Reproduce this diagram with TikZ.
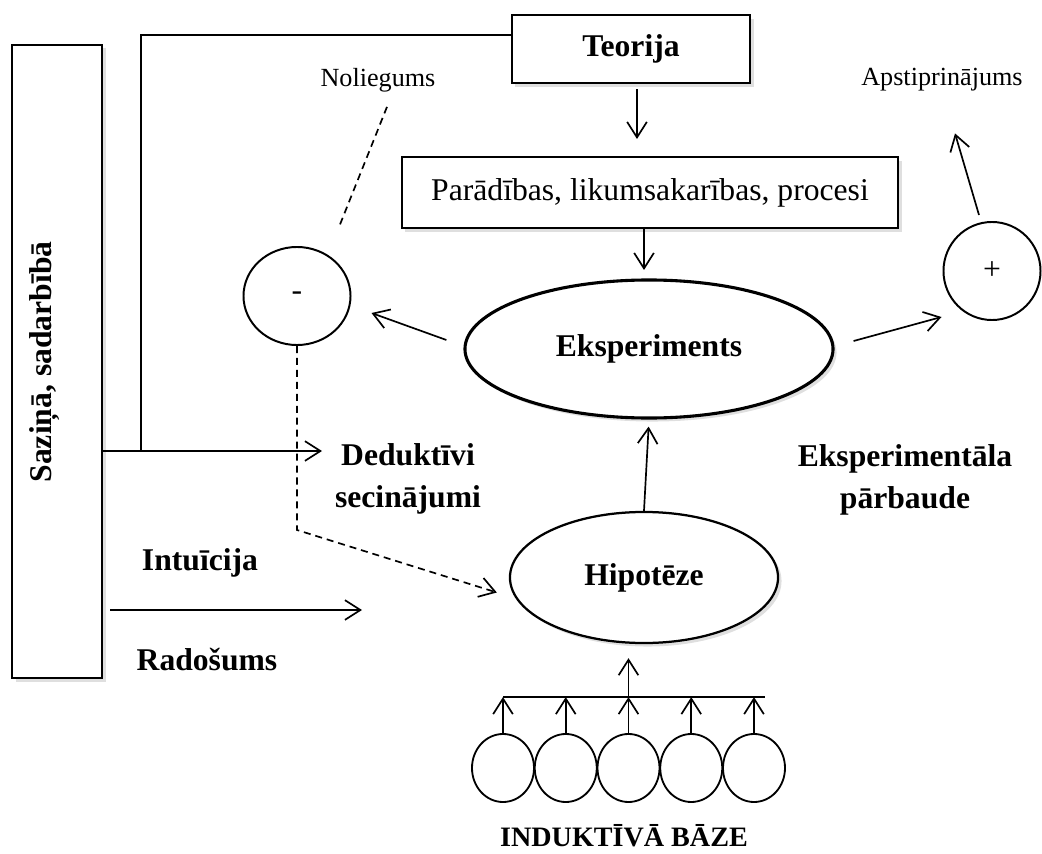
\documentclass[tikz,border=0pt]{standalone}
\usepackage{fontspec}
\setmainfont{Liberation Serif}
\usetikzlibrary{arrows.meta,positioning,shapes.geometric,shadows}

\begin{document}
\begin{tikzpicture}[
            x=0.025cm, y=-0.025cm,
            bigfont/.style={font=\fontsize{22.5pt}{30pt}\selectfont},
            smallfont/.style={font=\fontsize{18.6pt}{22pt}\selectfont},
            shade/.style={fill=white, drop shadow={shadow xshift=2.5pt, shadow yshift=-2.5pt, opacity=0.25}},
            block/.style={draw, line width=1.6pt, shade, minimum width=5.95cm, minimum height=1.7cm, bigfont},
            oval/.style={draw, ellipse, line width=1.6pt, shade, bigfont, font=\bfseries\fontsize{22.5pt}{30pt}\selectfont},
            sign/.style={draw, ellipse, line width=1.4pt, inner sep=0pt, bigfont},
            fact/.style={draw, ellipse, line width=1.3pt, inner sep=0pt, minimum width=1.55cm, minimum height=1.7cm},
            label/.style={align=center, font=\bfseries\fontsize{22.5pt}{30pt}\selectfont},
            note/.style={smallfont},
            line/.style={line width=1.2pt},
            arrow/.style={line, -{Straight Barb[length=11pt, width=14pt]}},
            dashline/.style={line, dash pattern=on 5pt off 3.5pt}
        ]
        \useasboundingbox (0,0) rectangle (1042,854);

        \node[draw, line width=1.6pt, shade, minimum width=2.25cm, minimum height=15.825cm] (sazina) at (57,361.5) {};
        \node[label, rotate=90] (sazinatext) at (45,362) {Saziņā, sadarbībā};

        \node[block, font=\bfseries\fontsize{22.5pt}{30pt}\selectfont] (teorija) at (631,49) {Teorija};

        \node[block, minimum width=12.4cm, minimum height=1.775cm] (paradibas) at (650,192.5) {Parādības, likumsakarības, procesi};

        \node[oval, line width=2.2pt, minimum width=9.2cm, minimum height=3.45cm] (eksp) at (649,349) {Eksperiments};

        \node[oval, minimum width=6.7cm, minimum height=3.275cm] (hipo) at (644,577.5) {Hipotēze};

        \node[sign, minimum width=2.675cm, minimum height=2.45cm] (minus) at (297,296) {-};
        \node[sign, minimum width=2.425cm, minimum height=2.45cm] (plus) at (992,271) {+};

        \node[note] (noliegums) at (378,80) {Noliegums};
        \node[note] (apstip) at (942,80) {Apstiprinājums};

        \node[label] (deduktivi) at (408,479) {Deduktīvi\\secinājumi};
        \node[label] (parbaude) at (905,480) {Eksperimentāla\\pārbaude};
        \node[label] (intuicija) at (200,563) {Intuīcija};
        \node[label] (radosums) at (207,660) {Radošums};
        \node[label, font=\bfseries\fontsize{20pt}{24pt}\selectfont] (baze) at (624,836) {INDUKTĪVĀ BĀZE};

        % inductive base
        \foreach \i in {1,...,5}
            \node[fact] (c\i) at ({503+62.75*(\i-1)},768) {};
        \coordinate (barL) at ([shift={(0,-36)}]c1.north);
        \coordinate (barR) at ([shift={(11,-36)}]c5.north);

        % free ends
        \coordinate (dedarrow) at (322,451);
        \coordinate (joint) at (141,451);
        \coordinate (intarrow) at (362,610);

        % main flow arrows
        \draw[arrow, shorten <=3.5pt, shorten >=12pt] ([xshift=0.15cm]teorija.south) -- ([xshift=0.15cm]teorija.south |- paradibas.north);
        \draw[arrow, shorten >=6pt] ([xshift=-0.15cm]paradibas.south) -- ([xshift=-0.15cm]paradibas.south |- eksp.north);
        \draw[arrow, shorten >=5pt] (hipo.north) -- (eksp.south);
        \draw[arrow] ([shift={(-17,-9)}]eksp.west) -- ([shift={(20,17)}]minus.east);
        \draw[arrow] ([shift={(19,-8)}]eksp.east) -- ([shift={(-1,46)}]plus.west);
        \draw[arrow] ([shift={(-13,-6)}]plus.north) -- ([shift={(13,37)}]apstip.south);

        % refutation
        \draw[dashline] ([shift={(9,10)}]noliegums.south) -- ([shift={(42,-19)}]minus.north);
        \draw[dashline, -{Straight Barb[length=11pt, width=14pt]}] (minus.south) -- ++(0,184) -- ([shift={(-12,15)}]hipo.west);

        % communication lines
        \draw[arrow] (sazina.east |- dedarrow) -- (dedarrow);
        \draw[line] ([shift={(0,21)}]teorija.north west) -| (joint);
        \draw[arrow, shorten <=5pt] (sazina.east |- intarrow) -- (intarrow);

        % inductive arrows
        \draw[line] (barL) -- (barR);
        \foreach \i in {1,...,5}
            \draw[arrow] (c\i.north) -- (c\i.north |- barL);
        \draw[arrow, shorten >=10pt] (c3.north |- barL) -- (c3.north |- hipo.south);

    \end{tikzpicture}
\end{document}
